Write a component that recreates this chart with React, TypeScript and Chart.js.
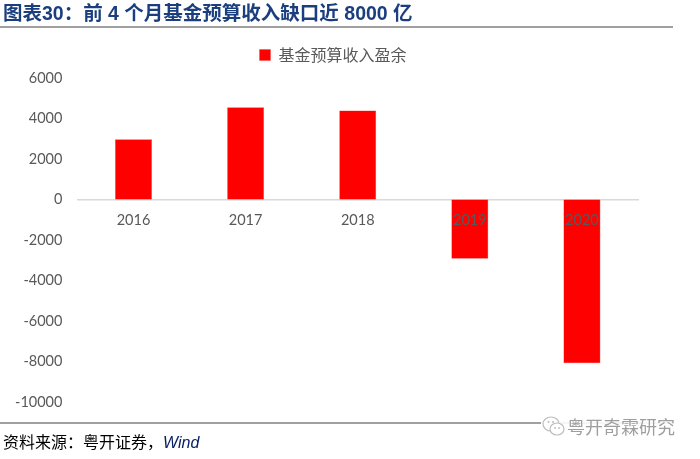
import React, { useEffect, useRef } from "react";
import { Chart, registerables } from "chart.js";

Chart.register(...registerables);

const titleText = "图表30：前 4 个月基金预算收入缺口近 8000 亿";
const seriesName = "基金预算收入盈余";
const categories = ["2016", "2017", "2018", "2019", "2020"];
const surplus = [2980, 4550, 4390, -2920, -8090];
const yMin = -10000;
const yMax = 6000;
const yStep = 2000;
const sourceText = "资料来源：粤开证券，";
const sourceWind = "Wind";
const watermark = "粤开奇霖研究";

const legendCentre = 333;

const legendTweaks = {
  id: "legendTweaks",
  beforeInit(chart: any) {
    const legend = chart.legend;
    if (!legend) return;
    const origFit = legend.fit;
    legend.fit = function fit() {
      origFit.bind(legend)();
      this.height += 5;
    };
  },
  afterLayout(chart: any) {
    const legend = chart.legend;
    if (!legend) return;
    const shift = legendCentre - (legend.left + legend.right) / 2;
    legend.left += shift;
    legend.right += shift;
  },
};

export default function App() {
  const ref = useRef<HTMLCanvasElement | null>(null);

  useEffect(() => {
    if (!ref.current) return;
    const tickFont = { family: "Lato, 'Liberation Sans', sans-serif", size: 14.5 };
    const chart = new Chart(ref.current, {
      type: "bar",
      data: {
        labels: categories,
        datasets: [
          {
            label: seriesName,
            data: surplus,
            backgroundColor: "#FF0000",
            borderColor: "#FF4a4a",
            borderWidth: 0.5,
            barPercentage: 0.33,
            categoryPercentage: 1,
          },
        ],
      },
      options: {
        responsive: false,
        animation: false,
        layout: { padding: { top: 37, left: 0, right: 62, bottom: 57 } },
        plugins: {
          legend: {
            display: true,
            position: "top",
            labels: {
              boxWidth: 11,
              boxHeight: 11,
              color: "#595959",
              font: { family: "'Noto Sans CJK SC', sans-serif", size: 16 },
            },
          },
          tooltip: { enabled: false },
        },
        scales: {
          x: {
            position: { y: 0 } as any,
            grid: { display: false, drawTicks: false },
            border: { display: true, color: "#d9d9d9", width: 1.5 },
            ticks: {
              z: 1,
              color: "#595959",
              padding: 12,
              font: tickFont,
            },
          },
          y: {
            min: yMin,
            max: yMax,
            grid: { display: false, drawTicks: false },
            border: { display: false },
            ticks: {
              stepSize: yStep,
              color: "#595959",
              padding: 15,
              font: tickFont,
              callback: (v: any) => String(v),
            },
          },
        },
      },
      plugins: [legendTweaks],
    });
    return () => chart.destroy();
  }, []);

  return (
    <div
      style={{
        position: "absolute",
        left: 0,
        top: 0,
        width: 700,
        height: 459,
        overflow: "hidden",
        background: "#ffffff",
      }}
    >
      <canvas
        ref={ref}
        width={700}
        height={459}
        style={{ position: "absolute", left: 0, top: 0, width: 700, height: 459 }}
      />
      <div
        style={{
          position: "absolute",
          left: 3,
          top: 2,
          fontFamily: "'Liberation Sans', 'Noto Sans CJK SC', sans-serif",
          fontWeight: "bold",
          fontSize: 19.5,
          lineHeight: "23px",
          color: "#1B3F7E",
          whiteSpace: "nowrap",
        }}
      >
        {titleText}
      </div>
      <div
        style={{
          position: "absolute",
          left: 0,
          top: 26,
          width: 673,
          height: 2,
          background: "#a0a0a0",
        }}
      />
      <div
        style={{
          position: "absolute",
          left: 0,
          top: 422,
          width: 673,
          height: 2,
          background: "#a0a0a0",
        }}
      />
      <div
        style={{
          position: "absolute",
          left: 3,
          top: 431,
          fontFamily: "'Noto Sans CJK SC', sans-serif",
          fontSize: 16,
          lineHeight: "20px",
          color: "#000000",
          whiteSpace: "nowrap",
        }}
      >
        {sourceText}
        <span
          style={{
            fontFamily: "'Liberation Sans', sans-serif",
            fontStyle: "italic",
            color: "#0a2263",
          }}
        >
          {sourceWind}
        </span>
      </div>
      <div
        style={{
          position: "absolute",
          left: 541,
          top: 414,
          display: "flex",
          alignItems: "center",
          background: "rgba(255,255,255,0.9)",
          paddingRight: 3,
        }}
      >
        <svg width={26} height={24} viewBox="0 0 26 24">
          <ellipse cx={10} cy={10} rx={8} ry={7} fill="#ffffff" stroke="#bdbdbd" strokeWidth={1.2} />
          <ellipse cx={16} cy={15} rx={7} ry={6} fill="#ffffff" stroke="#bdbdbd" strokeWidth={1.2} />
          <circle cx={7.5} cy={8} r={1} fill="#bdbdbd" />
          <circle cx={12} cy={8} r={1} fill="#bdbdbd" />
          <circle cx={14} cy={14} r={0.9} fill="#bdbdbd" />
          <circle cx={18} cy={14} r={0.9} fill="#bdbdbd" />
        </svg>
        <span
          style={{
            fontFamily: "'Noto Sans CJK SC', sans-serif",
            fontSize: 18,
            lineHeight: "22px",
            color: "#9e9e9e",
            whiteSpace: "nowrap",
          }}
        >
          {watermark}
        </span>
      </div>
    </div>
  );
}
